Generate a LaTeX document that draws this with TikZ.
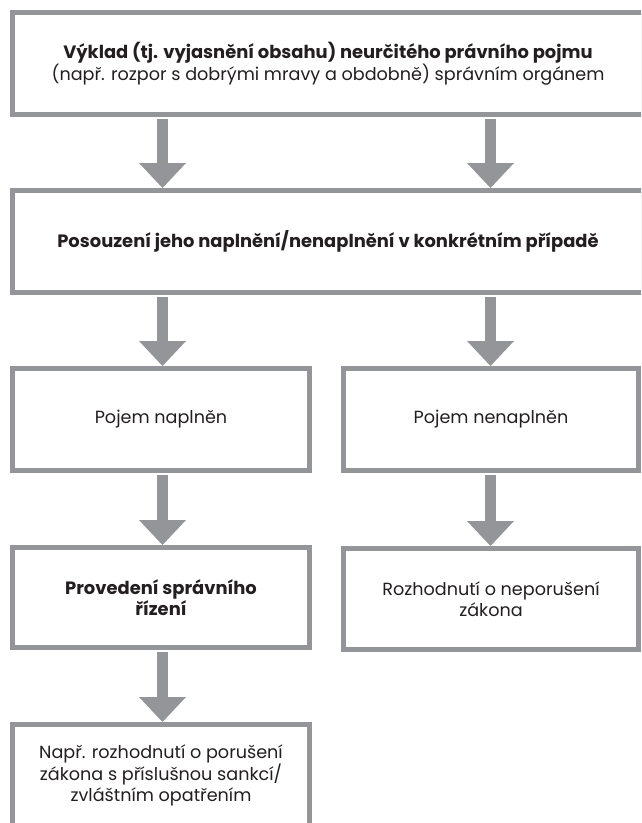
\documentclass[tikz,border=0pt]{standalone}
\usepackage{fontspec}
\setmainfont{Poppins}
\usetikzlibrary{arrows.meta,calc}
\definecolor{bordc}{HTML}{939598}
\definecolor{txtc}{HTML}{231F20}
\newcommand{\bt}[1]{{\fontsize{17.9}{21}\selectfont\bfseries #1}}
\begin{document}
\begin{tikzpicture}[x=1pt,y=-1pt,
  box/.style={draw=bordc, line width=5pt, fill=white, text=txtc, align=center,
    anchor=north west, inner sep=0pt, font=\fontsize{17.6}{21}\selectfont},
  wide/.style={box, minimum width=631pt, minimum height=102pt},
  half/.style={box, minimum width=297pt, minimum height=102pt},
  flow/.style={draw=bordc, line width=11pt, shorten <=2pt,
    -{Triangle[width=47pt,length=25pt,line width=0pt]}}
]
\useasboundingbox (0,0) rectangle (641,823);
\clip (0,0) rectangle (641,823);
\fill[white] (0,0) rectangle (641,823);
\node[wide] (b1) at (10,10) {\bt{Výklad (tj. vyjasnění obsahu) neurčitého právního pojmu}\\(např. rozpor s dobrými mravy a obdobně) správním orgánem};
\node[wide] (b2) at (10,188) {\bt{Posouzení jeho naplnění/nenaplnění v konkrétním případě}};
\node[half] (b3l) at (10,366) {Pojem naplněn};
\node[half, minimum width=295pt] (b3r) at (341,366) {Pojem nenaplněn};
\node[half, minimum height=100pt] (b4l) at (10,545) {\bt{Provedení správního}\\\bt{řízení}};
\node[half, minimum width=295pt, minimum height=101pt] (b4r) at (341,546) {Rozhodnutí o neporušení\\zákona};
\node[half] (b5) at (10,722) {Např. rozhodnutí o porušení\\zákona s příslušnou sankcí/\\zvláštním opatřením};
\coordinate (cl) at (162.5,0);
\coordinate (cr) at (490.5,0);
\draw[flow] (b1.south -| cl) -- (b2.north -| cl);
\draw[flow] (b1.south -| cr) -- (b2.north -| cr);
\draw[flow] (b2.south -| cl) -- (b3l.north -| cl);
\draw[flow] (b2.south -| cr) -- (b3r.north -| cr);
\draw[flow] (b3l.south -| cl) -- (b4l.north -| cl);
\draw[flow] (b3r.south -| cr) -- (b4r.north -| cr);
\draw[flow] (b4l.south -| cl) -- (b5.north -| cl);
\end{tikzpicture}
\end{document}
